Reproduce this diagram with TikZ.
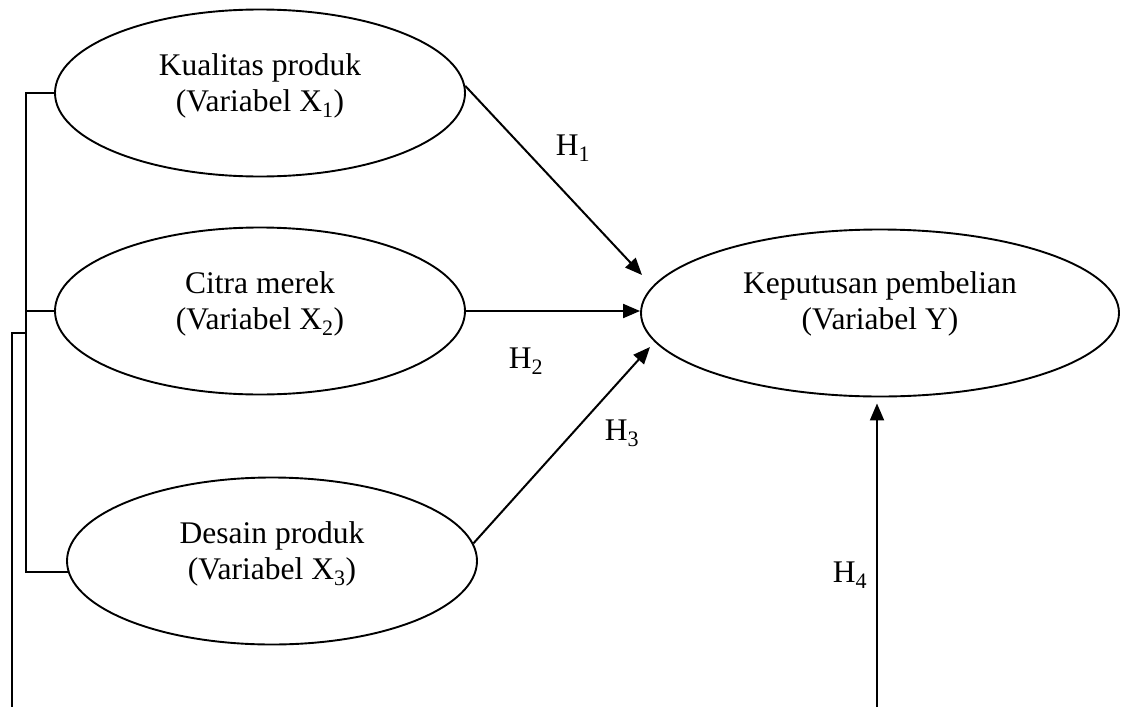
\documentclass[tikz,border=0pt]{standalone}
\usepackage{fontspec}
\setmainfont{Liberation Serif}
\usetikzlibrary{arrows.meta,shapes.geometric}
\tikzset{
  ell/.style={draw, ellipse, line width=1.9pt, minimum width=410pt, minimum height=167pt, inner sep=0pt},
  txt/.style={align=center, inner sep=0pt, font=\fontsize{31.5}{36}\selectfont},
  lab/.style={inner sep=0pt, font=\fontsize{31.5}{36}\selectfont},
  arr/.style={line width=2pt, -{Triangle[length=17pt,width=14pt]}},
  brk/.style={line width=1.7pt},
}
\begin{document}
\begin{tikzpicture}[x=1pt,y=-1pt]
\useasboundingbox (0,0) rectangle (1127,707);
\node[ell, label={[txt,yshift=7pt]center:{Kualitas produk\\(Variabel X\textsubscript{1})}}] (x1) at (260,93) {};
\node[ell, label={[txt,yshift=7pt]center:{Citra merek\\(Variabel X\textsubscript{2})}}] (x2) at (260,311) {};
\node[ell, label={[txt,yshift=7pt]center:{Desain produk\\(Variabel X\textsubscript{3})}}] (x3) at (272,561) {};
\node[ell, minimum width=478pt, label={[txt,yshift=9pt]center:{Keputusan pembelian\\(Variabel Y)}}] (y) at (880,313) {};

\node[lab] (h1) at (573,148) {H\textsubscript{1}};
\node[lab] (h2) at (526,361) {H\textsubscript{2}};
\node[lab] (h3) at (622,433) {H\textsubscript{3}};
\node[lab] (h4) at (850,575) {H\textsubscript{4}};

\coordinate (e1) at (642,275);
\coordinate (e3) at (650,347);
\coordinate (s4) at (877,707);
\coordinate (bx) at (26,0);
\coordinate (cx) at (12,0);
\coordinate (cy) at (0,333);

\draw[arr] (x1.2) -- (e1);
\draw[arr] (x2.east) -- (x2.east -| y.west);
\draw[arr] (x3.5) -- (e3);
\draw[arr, shorten >=6pt] (s4) -- (s4 |- y.south);

\draw[brk] (x1.west) -- (x1.west -| bx) -- (x3.183 -| bx) -- (x3.183);
\draw[brk] (x2.west) -- (x2.west -| bx);
\draw[brk] (cy -| bx) -- (cy -| cx) -- (cx |- s4);
\end{tikzpicture}
\end{document}
